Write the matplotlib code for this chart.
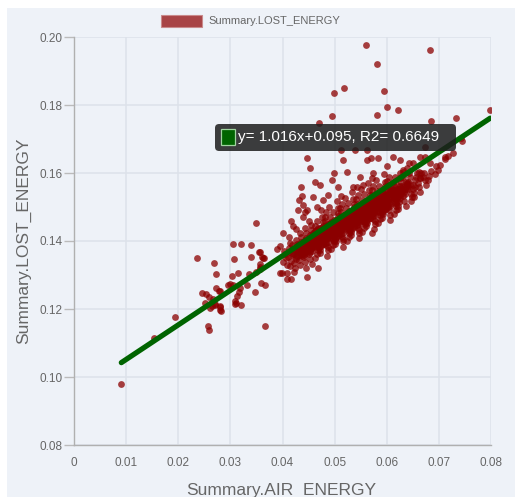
import matplotlib
matplotlib.use("Agg")
import matplotlib.pyplot as plt
from matplotlib.patches import FancyBboxPatch, Rectangle

# ---- data -------------------------------------------------------------
x_label = "Summary.AIR_ENERGY"
y_label = "Summary.LOST_ENERGY"
series_name = "Summary.LOST_ENERGY"

x_ticks = [0, 0.01, 0.02, 0.03, 0.04, 0.05, 0.06, 0.07, 0.08]
x_tick_labels = ["0", "0.01", "0.02", "0.03", "0.04", "0.05", "0.06", "0.07", "0.08"]
y_ticks = [0.08, 0.10, 0.12, 0.14, 0.16, 0.18, 0.20]
y_tick_labels = ["0.08", "0.10", "0.12", "0.14", "0.16", "0.18", "0.20"]

fit_slope = 1.016
fit_intercept = 0.095
fit_r2 = 0.6649

# isolated observations (air energy, lost energy)
sparse_pts = [
    (0.05604, 0.1976), (0.06833, 0.1962), (0.05816, 0.1921), (0.04996, 0.1836),
    (0.05177, 0.1851), (0.0595, 0.1841), (0.06008, 0.1795), (0.06213, 0.1784),
    (0.05816, 0.1771), (0.04952, 0.1767), (0.04702, 0.1747), (0.07985, 0.1786),
    (0.07327, 0.1763), (0.0684, 0.1754), (0.0745, 0.1694), (0.0743, 0.1704),
    (0.04472, 0.1643), (0.0453, 0.1616), (0.04351, 0.156), (0.04371, 0.1532),
    (0.06737, 0.1648), (0.07121, 0.1648), (0.05707, 0.1643), (0.05841, 0.1643),
    (0.06002, 0.1621), (0.0513, 0.1668), (0.05624, 0.1668), (0.06129, 0.1648),
    (0.0674, 0.1677), (0.0539, 0.1668), (0.0463, 0.1574), (0.0472, 0.1565),
    (0.0495, 0.1579), (0.0498, 0.1599), (0.0517, 0.1638), (0.0562, 0.1638),
    (0.0523, 0.1604), (0.0549, 0.1589), (0.0574, 0.1599), (0.0555, 0.1565),
    (0.0536, 0.156), (0.0507, 0.156), (0.0488, 0.1535), (0.0478, 0.152),
    (0.0459, 0.153), (0.0447, 0.1491), (0.044, 0.1506), (0.0466, 0.1501),
    (0.0626, 0.1638), (0.0638, 0.1614), (0.0651, 0.1628), (0.0664, 0.1648),
    (0.0626, 0.1585), (0.0664, 0.1585), (0.0655, 0.156), (0.0728, 0.1658),
    (0.0683, 0.1628), (0.0642, 0.1628), (0.0661, 0.1604), (0.0632, 0.1609),
    (0.04318, 0.152), (0.04293, 0.1491), (0.04434, 0.1486), (0.04389, 0.147),
    (0.04159, 0.146), (0.0421, 0.1445), (0.04261, 0.1434), (0.04121, 0.1413),
    (0.04018, 0.1423), (0.00908, 0.0979), (0.0153, 0.1115), (0.01945, 0.1176),
    (0.02355, 0.1351), (0.02693, 0.1335), (0.02726, 0.1303), (0.03058, 0.1392),
    (0.032, 0.1391), (0.03397, 0.1387), (0.035, 0.1454), (0.03077, 0.1347),
    (0.03392, 0.1353), (0.0357, 0.1369), (0.03603, 0.1352), (0.03653, 0.135),
    (0.03576, 0.1324), (0.0314, 0.1307), (0.03033, 0.1297), (0.02961, 0.1271),
    (0.03058, 0.127), (0.03186, 0.1261), (0.03314, 0.127), (0.0348, 0.125),
    (0.03589, 0.1277), (0.03672, 0.1271), (0.02451, 0.1248), (0.02534, 0.1244),
    (0.02585, 0.1236), (0.0272, 0.1263), (0.02802, 0.1254), (0.02668, 0.123),
    (0.02514, 0.1217), (0.02643, 0.1209), (0.02706, 0.1211), (0.02808, 0.1205),
    (0.02816, 0.1193), (0.0261, 0.1204), (0.03096, 0.1223), (0.0311, 0.1217),
    (0.03212, 0.1211), (0.03135, 0.1238), (0.02566, 0.1149), (0.02585, 0.1138),
    (0.03666, 0.1151), (0.03902, 0.1377), (0.03954, 0.1385), (0.03954, 0.1305),
    (0.03493, 0.1308), (0.03359, 0.1303), (0.02995, 0.1274), (0.0316, 0.125),
    (0.0309, 0.1215), (0.02777, 0.1253), (0.02712, 0.1216), (0.02802, 0.1197),
    (0.02802, 0.1208), (0.04146, 0.1393), (0.04094, 0.1305), (0.03987, 0.1305),
    (0.04082, 0.1288), (0.04159, 0.1288), (0.0423, 0.131), (0.04467, 0.1295),
    (0.04689, 0.1321), (0.05726, 0.1425), (0.0362, 0.135), (0.0357, 0.1331),
    (0.0357, 0.1317), (0.03545, 0.1367),
]

# main body of the observations (air energy, lost energy)
core_pts = [
    (0.0401, 0.1338), (0.0404, 0.1362), (0.0407, 0.1349), (0.0403, 0.1371), (0.0408, 0.1329),
    (0.0410, 0.1352), (0.0413, 0.1367), (0.0416, 0.1341), (0.0412, 0.1380), (0.0418, 0.1358),
    (0.0415, 0.1326), (0.0419, 0.1389),
    (0.0421, 0.1361), (0.0423, 0.1377), (0.0425, 0.1348), (0.0427, 0.1392), (0.0422, 0.1335),
    (0.0429, 0.1369), (0.0426, 0.1402), (0.0424, 0.1320), (0.0428, 0.1355),
    (0.0430, 0.1371), (0.0432, 0.1386), (0.0434, 0.1359), (0.0436, 0.1398), (0.0431, 0.1344),
    (0.0438, 0.1378), (0.0435, 0.1412), (0.0433, 0.1330), (0.0437, 0.1363), (0.0439, 0.1392),
    (0.0434, 0.1425),
    (0.0440, 0.1380), (0.0442, 0.1395), (0.0444, 0.1367), (0.0446, 0.1409), (0.0441, 0.1352),
    (0.0448, 0.1388), (0.0445, 0.1423), (0.0443, 0.1338), (0.0447, 0.1372), (0.0449, 0.1401),
    (0.0444, 0.1437), (0.0446, 0.1322), (0.0442, 0.1359),
    (0.0450, 0.1390), (0.0452, 0.1404), (0.0454, 0.1376), (0.0456, 0.1418), (0.0451, 0.1361),
    (0.0458, 0.1397), (0.0455, 0.1432), (0.0453, 0.1347), (0.0457, 0.1382), (0.0459, 0.1411),
    (0.0454, 0.1446), (0.0456, 0.1331), (0.0452, 0.1369), (0.0458, 0.1425), (0.0451, 0.1458),
    (0.0460, 0.1407), (0.0463, 0.1396), (0.0461, 0.1418), (0.0466, 0.1382), (0.0464, 0.1431),
    (0.0468, 0.1373), (0.0462, 0.1444), (0.0467, 0.1361), (0.0465, 0.1411), (0.0469, 0.1389),
    (0.0461, 0.1423), (0.0466, 0.1459), (0.0463, 0.1349), (0.0468, 0.1437), (0.0464, 0.1401),
    (0.0471, 0.1410), (0.0474, 0.1424), (0.0470, 0.1396), (0.0476, 0.1432), (0.0473, 0.1384),
    (0.0478, 0.1443), (0.0472, 0.1374), (0.0477, 0.1457), (0.0475, 0.1403), (0.0479, 0.1417),
    (0.0471, 0.1365), (0.0476, 0.1471), (0.0473, 0.1437), (0.0478, 0.1391), (0.0474, 0.1492),
    (0.0470, 0.1379),
    (0.0480, 0.1416), (0.0483, 0.1430), (0.0481, 0.1402), (0.0486, 0.1444), (0.0484, 0.1387),
    (0.0488, 0.1423), (0.0482, 0.1458), (0.0487, 0.1373), (0.0485, 0.1408), (0.0489, 0.1437),
    (0.0481, 0.1472), (0.0486, 0.1357), (0.0483, 0.1395), (0.0488, 0.1451), (0.0484, 0.1484),
    (0.0487, 0.1381), (0.0489, 0.1433),
    (0.0490, 0.1433), (0.0493, 0.1422), (0.0491, 0.1444), (0.0496, 0.1408), (0.0494, 0.1457),
    (0.0498, 0.1399), (0.0492, 0.1470), (0.0497, 0.1387), (0.0495, 0.1437), (0.0499, 0.1415),
    (0.0491, 0.1449), (0.0496, 0.1485), (0.0493, 0.1375), (0.0498, 0.1463), (0.0494, 0.1427),
    (0.0490, 0.1500), (0.0497, 0.1404), (0.0492, 0.1440),
    (0.0501, 0.1436), (0.0504, 0.1450), (0.0500, 0.1422), (0.0506, 0.1458), (0.0503, 0.1410),
    (0.0508, 0.1469), (0.0502, 0.1400), (0.0507, 0.1483), (0.0505, 0.1429), (0.0509, 0.1443),
    (0.0501, 0.1391), (0.0506, 0.1497), (0.0503, 0.1463), (0.0508, 0.1417), (0.0504, 0.1518),
    (0.0500, 0.1405), (0.0507, 0.1474), (0.0509, 0.1426),
    (0.0510, 0.1442), (0.0513, 0.1456), (0.0511, 0.1428), (0.0516, 0.1470), (0.0514, 0.1413),
    (0.0518, 0.1449), (0.0512, 0.1484), (0.0517, 0.1399), (0.0515, 0.1434), (0.0519, 0.1463),
    (0.0511, 0.1498), (0.0516, 0.1383), (0.0513, 0.1421), (0.0518, 0.1477), (0.0514, 0.1510),
    (0.0517, 0.1407), (0.0519, 0.1459), (0.0512, 0.1532),
    (0.0520, 0.1459), (0.0523, 0.1448), (0.0521, 0.1470), (0.0526, 0.1434), (0.0524, 0.1483),
    (0.0528, 0.1425), (0.0522, 0.1496), (0.0527, 0.1413), (0.0525, 0.1463), (0.0529, 0.1441),
    (0.0521, 0.1475), (0.0526, 0.1511), (0.0523, 0.1401), (0.0528, 0.1489), (0.0524, 0.1453),
    (0.0520, 0.1526), (0.0527, 0.1430), (0.0522, 0.1466),
    (0.0531, 0.1462), (0.0534, 0.1476), (0.0530, 0.1448), (0.0536, 0.1484), (0.0533, 0.1436),
    (0.0538, 0.1495), (0.0532, 0.1426), (0.0537, 0.1509), (0.0535, 0.1455), (0.0539, 0.1469),
    (0.0531, 0.1417), (0.0536, 0.1523), (0.0533, 0.1489), (0.0538, 0.1443), (0.0534, 0.1544),
    (0.0530, 0.1431), (0.0537, 0.1500), (0.0539, 0.1452),
    (0.0540, 0.1468), (0.0543, 0.1482), (0.0541, 0.1454), (0.0546, 0.1496), (0.0544, 0.1439),
    (0.0548, 0.1475), (0.0542, 0.1510), (0.0547, 0.1425), (0.0545, 0.1460), (0.0549, 0.1489),
    (0.0541, 0.1524), (0.0546, 0.1409), (0.0543, 0.1447), (0.0548, 0.1503), (0.0544, 0.1536),
    (0.0547, 0.1433), (0.0549, 0.1485), (0.0542, 0.1558),
    (0.0550, 0.1485), (0.0553, 0.1474), (0.0551, 0.1496), (0.0556, 0.1460), (0.0554, 0.1509),
    (0.0558, 0.1451), (0.0552, 0.1522), (0.0557, 0.1439), (0.0555, 0.1489), (0.0559, 0.1467),
    (0.0551, 0.1501), (0.0556, 0.1537), (0.0553, 0.1427), (0.0558, 0.1515), (0.0554, 0.1479),
    (0.0550, 0.1552), (0.0557, 0.1456), (0.0552, 0.1492),
    (0.0561, 0.1488), (0.0564, 0.1502), (0.0560, 0.1474), (0.0566, 0.1510), (0.0563, 0.1462),
    (0.0568, 0.1521), (0.0562, 0.1452), (0.0567, 0.1535), (0.0565, 0.1481), (0.0569, 0.1495),
    (0.0561, 0.1443), (0.0566, 0.1549), (0.0563, 0.1515), (0.0568, 0.1469), (0.0564, 0.1570),
    (0.0560, 0.1457), (0.0567, 0.1526), (0.0569, 0.1478),
    (0.0570, 0.1494), (0.0573, 0.1508), (0.0571, 0.1480), (0.0576, 0.1522), (0.0574, 0.1465),
    (0.0578, 0.1501), (0.0572, 0.1536), (0.0577, 0.1451), (0.0575, 0.1486), (0.0579, 0.1515),
    (0.0571, 0.1550), (0.0576, 0.1435), (0.0573, 0.1473), (0.0578, 0.1529), (0.0574, 0.1562),
    (0.0577, 0.1459), (0.0579, 0.1511), (0.0572, 0.1584),
    (0.0580, 0.1511), (0.0583, 0.1500), (0.0581, 0.1522), (0.0586, 0.1486), (0.0584, 0.1535),
    (0.0588, 0.1477), (0.0582, 0.1548), (0.0587, 0.1465), (0.0585, 0.1515), (0.0589, 0.1493),
    (0.0581, 0.1527), (0.0586, 0.1563), (0.0583, 0.1453), (0.0588, 0.1541), (0.0584, 0.1505),
    (0.0580, 0.1578),
    (0.0591, 0.1514), (0.0594, 0.1528), (0.0590, 0.1500), (0.0596, 0.1536), (0.0593, 0.1488),
    (0.0598, 0.1547), (0.0592, 0.1478), (0.0597, 0.1561), (0.0595, 0.1507), (0.0599, 0.1521),
    (0.0591, 0.1469), (0.0596, 0.1575), (0.0593, 0.1541), (0.0598, 0.1495), (0.0594, 0.1596),
    (0.0590, 0.1483),
    (0.0600, 0.1520), (0.0603, 0.1534), (0.0601, 0.1506), (0.0606, 0.1548), (0.0604, 0.1491),
    (0.0608, 0.1527), (0.0602, 0.1562), (0.0607, 0.1477), (0.0605, 0.1512), (0.0609, 0.1541),
    (0.0601, 0.1576), (0.0606, 0.1461), (0.0603, 0.1499), (0.0608, 0.1555), (0.0604, 0.1588),
    (0.0610, 0.1537), (0.0613, 0.1526), (0.0611, 0.1548), (0.0616, 0.1512), (0.0614, 0.1561),
    (0.0618, 0.1503), (0.0612, 0.1574), (0.0617, 0.1491), (0.0615, 0.1541), (0.0619, 0.1519),
    (0.0611, 0.1553), (0.0616, 0.1589), (0.0613, 0.1479), (0.0618, 0.1567),
    (0.0621, 0.1540), (0.0624, 0.1554), (0.0620, 0.1526), (0.0626, 0.1562), (0.0623, 0.1514),
    (0.0628, 0.1573), (0.0622, 0.1504), (0.0627, 0.1587), (0.0625, 0.1533), (0.0629, 0.1547),
    (0.0621, 0.1495), (0.0626, 0.1601),
    (0.0630, 0.1546), (0.0633, 0.1560), (0.0631, 0.1532), (0.0636, 0.1574), (0.0634, 0.1517),
    (0.0638, 0.1553), (0.0632, 0.1588), (0.0637, 0.1503), (0.0635, 0.1538), (0.0639, 0.1567),
    (0.0631, 0.1602),
    (0.0640, 0.1563), (0.0643, 0.1552), (0.0641, 0.1574), (0.0646, 0.1538), (0.0644, 0.1587),
    (0.0648, 0.1529), (0.0642, 0.1600), (0.0647, 0.1517), (0.0645, 0.1567),
    (0.0651, 0.1566), (0.0654, 0.1580), (0.0650, 0.1552), (0.0656, 0.1588), (0.0653, 0.1540),
    (0.0658, 0.1599), (0.0652, 0.1530),
    (0.0660, 0.1572), (0.0663, 0.1586), (0.0661, 0.1558), (0.0666, 0.1600), (0.0664, 0.1543),
    (0.0670, 0.1589), (0.0673, 0.1578), (0.0671, 0.1600), (0.0676, 0.1564),
    (0.0681, 0.1592), (0.0684, 0.1606), (0.0680, 0.1578),
    (0.0692, 0.1598), (0.0695, 0.1620), (0.0698, 0.1610),
    (0.0703, 0.1625), (0.0711, 0.1640), (0.0718, 0.1650),
]

# tightly packed centre of the cloud (air energy, lost energy)
dense_pts = [
    (0.0425, 0.1370), (0.0428, 0.1381), (0.0423, 0.1361), (0.0429, 0.1388), (0.0426, 0.1353),
    (0.0435, 0.1379), (0.0438, 0.1390), (0.0433, 0.1370), (0.0439, 0.1397), (0.0436, 0.1362),
    (0.0431, 0.1386), (0.0437, 0.1355),
    (0.0445, 0.1388), (0.0448, 0.1399), (0.0443, 0.1379), (0.0449, 0.1406), (0.0446, 0.1371),
    (0.0441, 0.1395), (0.0447, 0.1364), (0.0444, 0.1402), (0.0448, 0.1384),
    (0.0455, 0.1396), (0.0458, 0.1407), (0.0453, 0.1387), (0.0459, 0.1414), (0.0456, 0.1379),
    (0.0451, 0.1403), (0.0457, 0.1372), (0.0454, 0.1410), (0.0458, 0.1392), (0.0452, 0.1419),
    (0.0455, 0.1383), (0.0459, 0.1400),
    (0.0465, 0.1405), (0.0468, 0.1416), (0.0463, 0.1396), (0.0469, 0.1423), (0.0466, 0.1388),
    (0.0461, 0.1412), (0.0467, 0.1381), (0.0464, 0.1419), (0.0468, 0.1401), (0.0462, 0.1428),
    (0.0465, 0.1392), (0.0469, 0.1409),
    (0.0475, 0.1414), (0.0478, 0.1425), (0.0473, 0.1405), (0.0479, 0.1432), (0.0476, 0.1397),
    (0.0471, 0.1421), (0.0477, 0.1390), (0.0474, 0.1428), (0.0478, 0.1410), (0.0472, 0.1437),
    (0.0475, 0.1401), (0.0479, 0.1418),
    (0.0485, 0.1422), (0.0488, 0.1433), (0.0483, 0.1413), (0.0489, 0.1440), (0.0486, 0.1405),
    (0.0481, 0.1429), (0.0487, 0.1398), (0.0484, 0.1436), (0.0488, 0.1418), (0.0482, 0.1445),
    (0.0485, 0.1409), (0.0489, 0.1426),
    (0.0495, 0.1431), (0.0498, 0.1442), (0.0493, 0.1422), (0.0499, 0.1449), (0.0496, 0.1414),
    (0.0491, 0.1438), (0.0497, 0.1407), (0.0494, 0.1445), (0.0498, 0.1427), (0.0492, 0.1454),
    (0.0495, 0.1418), (0.0499, 0.1435),
    (0.0505, 0.1440), (0.0508, 0.1451), (0.0503, 0.1431), (0.0509, 0.1458), (0.0506, 0.1423),
    (0.0501, 0.1447), (0.0507, 0.1416), (0.0504, 0.1454), (0.0508, 0.1436), (0.0502, 0.1463),
    (0.0505, 0.1427), (0.0509, 0.1444),
    (0.0515, 0.1448), (0.0518, 0.1459), (0.0513, 0.1439), (0.0519, 0.1466), (0.0516, 0.1431),
    (0.0511, 0.1455), (0.0517, 0.1424), (0.0514, 0.1462), (0.0518, 0.1444), (0.0512, 0.1471),
    (0.0515, 0.1435), (0.0519, 0.1452),
    (0.0525, 0.1457), (0.0528, 0.1468), (0.0523, 0.1448), (0.0529, 0.1475), (0.0526, 0.1440),
    (0.0521, 0.1464), (0.0527, 0.1433), (0.0524, 0.1471), (0.0528, 0.1453), (0.0522, 0.1480),
    (0.0525, 0.1444), (0.0529, 0.1461),
    (0.0535, 0.1466), (0.0538, 0.1477), (0.0533, 0.1457), (0.0539, 0.1484), (0.0536, 0.1449),
    (0.0531, 0.1473), (0.0537, 0.1442), (0.0534, 0.1480), (0.0538, 0.1462), (0.0532, 0.1489),
    (0.0535, 0.1453), (0.0539, 0.1470),
    (0.0545, 0.1474), (0.0548, 0.1485), (0.0543, 0.1465), (0.0549, 0.1492), (0.0546, 0.1457),
    (0.0541, 0.1481), (0.0547, 0.1450), (0.0544, 0.1488), (0.0548, 0.1470), (0.0542, 0.1497),
    (0.0545, 0.1461), (0.0549, 0.1478),
    (0.0555, 0.1483), (0.0558, 0.1494), (0.0553, 0.1474), (0.0559, 0.1501), (0.0556, 0.1466),
    (0.0551, 0.1490), (0.0557, 0.1459), (0.0554, 0.1497), (0.0558, 0.1479), (0.0552, 0.1506),
    (0.0555, 0.1470), (0.0559, 0.1487),
    (0.0565, 0.1492), (0.0568, 0.1503), (0.0563, 0.1483), (0.0569, 0.1510), (0.0566, 0.1475),
    (0.0561, 0.1499), (0.0567, 0.1468), (0.0564, 0.1506), (0.0568, 0.1488), (0.0562, 0.1515),
    (0.0565, 0.1479), (0.0569, 0.1496),
    (0.0575, 0.1500), (0.0578, 0.1511), (0.0573, 0.1491), (0.0579, 0.1518), (0.0576, 0.1483),
    (0.0571, 0.1507), (0.0577, 0.1476), (0.0574, 0.1514), (0.0578, 0.1496), (0.0572, 0.1523),
    (0.0575, 0.1487), (0.0579, 0.1504),
    (0.0585, 0.1509), (0.0588, 0.1520), (0.0583, 0.1500), (0.0589, 0.1527), (0.0586, 0.1492),
    (0.0581, 0.1516), (0.0587, 0.1485), (0.0584, 0.1523), (0.0588, 0.1505), (0.0582, 0.1532),
    (0.0585, 0.1496), (0.0589, 0.1513),
    (0.0595, 0.1518), (0.0598, 0.1529), (0.0593, 0.1509), (0.0599, 0.1536), (0.0596, 0.1501),
    (0.0591, 0.1525), (0.0597, 0.1494), (0.0594, 0.1532), (0.0598, 0.1514), (0.0592, 0.1541),
    (0.0595, 0.1505), (0.0599, 0.1522),
    (0.0605, 0.1527), (0.0608, 0.1538), (0.0603, 0.1518), (0.0609, 0.1545), (0.0606, 0.1510),
    (0.0601, 0.1534), (0.0607, 0.1503), (0.0604, 0.1541), (0.0608, 0.1523), (0.0602, 0.1550),
    (0.0615, 0.1535), (0.0618, 0.1546), (0.0613, 0.1526), (0.0619, 0.1553), (0.0616, 0.1518),
    (0.0611, 0.1542), (0.0617, 0.1511), (0.0614, 0.1549),
    (0.0625, 0.1544), (0.0628, 0.1555), (0.0623, 0.1535), (0.0629, 0.1562), (0.0626, 0.1527),
    (0.0621, 0.1551),
    (0.0635, 0.1553), (0.0638, 0.1564), (0.0633, 0.1544), (0.0639, 0.1571),
]

all_pts = sparse_pts + core_pts + dense_pts
air_energy = [p[0] for p in all_pts]
lost_energy = [p[1] for p in all_pts]

# ---- styling ----------------------------------------------------------
W, H = 515, 497
panel_bg = "#eef2f8"
text_grey = "#666666"
grid_col = "#dde2ea"
point_col = "#8b0000"
line_col = "#006400"
font = "Liberation Sans"

plt.rcParams["font.family"] = font

fig = plt.figure(figsize=(W / 100, H / 100), dpi=100, facecolor="white")
fig.patches.append(Rectangle((7 / W, 0), 1, 1 - 8 / H, transform=fig.transFigure,
                             facecolor=panel_bg, edgecolor="none", zorder=-10))

ax = fig.add_axes([74 / W, 1 - 445 / H, (491 - 74) / W, (445 - 37) / H])
ax.set_facecolor(panel_bg)
ax.set_xlim(0, 0.08)
ax.set_ylim(0.08, 0.20)

ax.set_xticks(x_ticks)
ax.set_xticklabels(x_tick_labels)
ax.set_yticks(y_ticks)
ax.set_yticklabels(y_tick_labels)
ax.grid(True, color=grid_col, linewidth=1.1, zorder=0)
ax.set_axisbelow(True)
ax.tick_params(axis="y", length=7, width=1, color="#bbbbbb", pad=1,
               labelsize=8.5, labelcolor=text_grey)
ax.tick_params(axis="x", length=0, pad=9, labelsize=8.5, labelcolor=text_grey)
for side in ("top", "right"):
    ax.spines[side].set_visible(False)
for side in ("left", "bottom"):
    ax.spines[side].set_color("#b0b0b0")
    ax.spines[side].set_linewidth(1)

ax.scatter(air_energy, lost_energy, s=24, color=point_col, alpha=0.75,
           linewidths=0, zorder=3)

# least-squares line as reported in the label
x0, x1 = min(air_energy), max(air_energy)
ax.plot([x0, x1], [fit_slope * x0 + fit_intercept, fit_slope * x1 + fit_intercept],
        color=line_col, linewidth=3.8, solid_capstyle="round", zorder=4)

# axis titles
fig.text(281 / W, 2 / H, x_label, ha="center", va="baseline",
         fontsize=12.5, color=text_grey)
fig.text(24 / W, 1 - 241 / H, y_label, ha="center", va="center", rotation=90,
         fontsize=12.5, color=text_grey)

# legend
fig.patches.append(Rectangle((161 / W, 1 - 27 / H), 41 / W, 12 / H,
                             transform=fig.transFigure, facecolor="#a84446",
                             edgecolor="#c98a8b", linewidth=0.8))
fig.text(208 / W, 1 - 21 / H, series_name, ha="left", va="center",
         fontsize=8, color=text_grey)

# fit annotation box
box = FancyBboxPatch((215 / W, 1 - 151 / H), 241 / W, 27 / H,
                     boxstyle="round,pad=0,rounding_size=0.008",
                     transform=fig.transFigure, facecolor="#1e1e1e",
                     edgecolor="none", alpha=0.86, zorder=10)
fig.patches.append(box)
fig.patches.append(Rectangle((221 / W, 1 - 145 / H), 14 / W, 16 / H,
                             transform=fig.transFigure, facecolor=line_col,
                             edgecolor="#9fd49f", linewidth=0.9, zorder=11))
fig.text(238 / W, 1 - 137.5 / H,
         f"y= {fit_slope}x+{fit_intercept}, R2= {fit_r2}",
         ha="left", va="center", fontsize=11, color="white", zorder=12)

fig.savefig("out.png", dpi=100, facecolor=fig.get_facecolor())
